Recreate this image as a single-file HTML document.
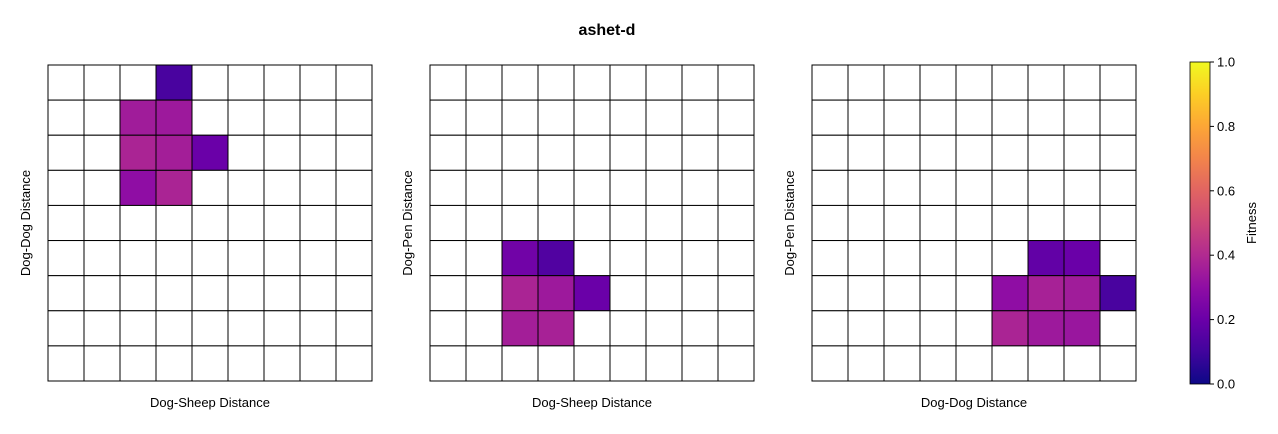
<!DOCTYPE html>
<html><head><meta charset="utf-8"><style>
body{margin:0;background:#fff;font-family:"Liberation Sans",sans-serif}
</style></head><body>
<svg id="chart" width="1278" height="429" xmlns="http://www.w3.org/2000/svg" font-family="Liberation Sans, sans-serif">
<defs><linearGradient id="plasma" x1="0" y1="1" x2="0" y2="0">
<stop offset="0" stop-color="#0d0887"/><stop offset="0.1" stop-color="#41049d"/><stop offset="0.2" stop-color="#6a00a8"/><stop offset="0.3" stop-color="#8f0da4"/><stop offset="0.4" stop-color="#b12a90"/><stop offset="0.5" stop-color="#cc4778"/><stop offset="0.6" stop-color="#e16462"/><stop offset="0.7" stop-color="#f2844b"/><stop offset="0.8" stop-color="#fca636"/><stop offset="0.9" stop-color="#fcce25"/><stop offset="1" stop-color="#f0f921"/></linearGradient></defs>
<text x="607" y="35" text-anchor="middle" font-size="16" font-weight="bold">ashet-d</text>
</svg>
<script>
const panelXLabels = ["Dog-Sheep Distance","Dog-Sheep Distance","Dog-Dog Distance"];
const panelYLabels = ["Dog-Dog Distance","Dog-Pen Distance","Dog-Pen Distance"];
// cells: [row(from top), col, fitness]
const panel1Cells = [[0,3,0.12],[1,2,0.35],[1,3,0.34],[2,2,0.38],[2,3,0.36],[2,4,0.2],[3,2,0.3],[3,3,0.38]];
const panel2Cells = [[5,2,0.22],[5,3,0.14],[6,2,0.38],[6,3,0.34],[6,4,0.2],[7,2,0.36],[7,3,0.37]];
const panel3Cells = [[5,6,0.18],[5,7,0.2],[6,5,0.3],[6,6,0.37],[6,7,0.35],[6,8,0.12],[7,5,0.38],[7,6,0.34],[7,7,0.33]];
const colorbarTicks = [0.0,0.2,0.4,0.6,0.8,1.0];
const gridSize = 9;

const stops=["#0d0887","#41049d","#6a00a8","#8f0da4","#b12a90","#cc4778","#e16462","#f2844b","#fca636","#fcce25","#f0f921"];
function hx(c){return [1,3,5].map(i=>parseInt(c.substr(i,2),16));}
function plasma(v){v=Math.max(0,Math.min(1,v));const t=v*10,i=Math.min(9,Math.floor(t)),f=t-i;const a=hx(stops[i]),b=hx(stops[i+1]);return `rgb(${a.map((x,k)=>Math.round(x+(b[k]-x)*f)).join(',')})`;}
const NS="http://www.w3.org/2000/svg",svg=document.getElementById('chart');
function mk(t,at,p){const e=document.createElementNS(NS,t);for(const k in at)e.setAttribute(k,at[k]);(p||svg).appendChild(e);return e;}
const panelX=[48,430,812],topY=65,W=324,H=316;
const allCells=[panel1Cells,panel2Cells,panel3Cells];
panelX.forEach((px,pi)=>{
 const g=mk('g',{});
 
 
 const cw=W/gridSize,ch=H/gridSize;
 for(let r=0;r<gridSize;r++)for(let c=0;c<gridSize;c++){
  const cell=allCells[pi].find(d=>d[0]===r&&d[1]===c);
  const rc=mk('rect',{x:px+c*cw,y:topY+r*ch,width:cw,height:ch,fill:cell?plasma(cell[2]):'#fff',stroke:'#000','stroke-width':1},g);
  
  
 }
 const xl=mk('text',{x:px+W/2,y:407,'text-anchor':'middle','font-size':13},g);xl.textContent=panelXLabels[pi];
 
 
 const yl=mk('text',{x:0,y:0,'text-anchor':'middle','font-size':13,transform:`translate(${px-18},${topY+H/2}) rotate(-90)`},g);yl.textContent=panelYLabels[pi];
 
 
});
const cb=mk('rect',{x:1190,y:62,width:20,height:322,fill:'url(#plasma)',stroke:'#000','stroke-width':0.8});


colorbarTicks.forEach(v=>{
 const y=384-v*322;
 mk('line',{x1:1210,x2:1214,y1:y,y2:y,stroke:'#000'});
 const t=mk('text',{x:1217,y:y+4.5,'font-size':13});t.textContent=v.toFixed(1);
 
 
});
const ct=mk('text',{x:0,y:0,'text-anchor':'middle','font-size':13,transform:'translate(1256,223) rotate(-90)'});ct.textContent='Fitness';


</script>
</body></html>
